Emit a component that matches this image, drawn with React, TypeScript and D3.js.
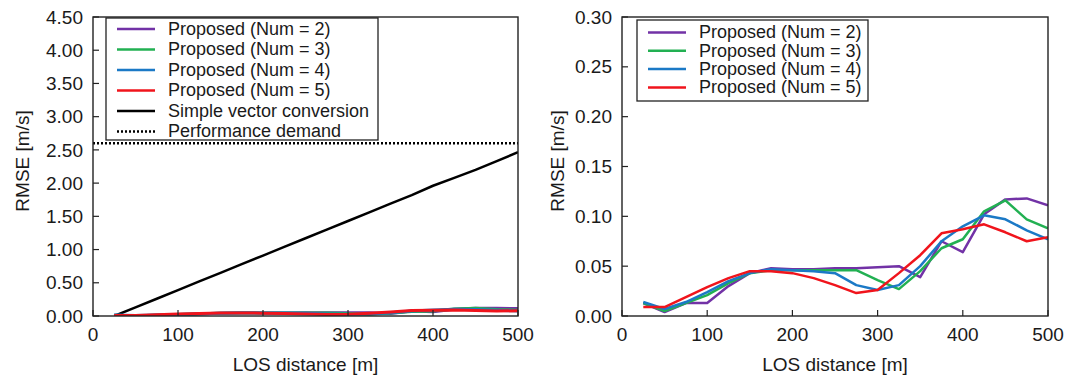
import React from "react";
import * as d3 from "d3";

const distances = [25, 50, 75, 100, 125, 150, 175, 200, 225, 250, 275, 300, 325, 350, 375, 400, 425, 450, 475, 500];
const num2 = [0.013, 0.004, 0.013, 0.013, 0.03, 0.043, 0.048, 0.047, 0.047, 0.048, 0.048, 0.049, 0.05, 0.039, 0.075, 0.064, 0.102, 0.117, 0.118, 0.111];
const num3 = [0.013, 0.005, 0.013, 0.021, 0.033, 0.043, 0.046, 0.046, 0.046, 0.046, 0.046, 0.036, 0.027, 0.045, 0.068, 0.077, 0.105, 0.116, 0.097, 0.088];
const num4 = [0.014, 0.007, 0.014, 0.024, 0.035, 0.043, 0.047, 0.046, 0.045, 0.043, 0.031, 0.026, 0.031, 0.05, 0.075, 0.09, 0.101, 0.097, 0.086, 0.077];
const num5 = [0.009, 0.009, 0.019, 0.029, 0.038, 0.045, 0.045, 0.043, 0.038, 0.031, 0.023, 0.026, 0.043, 0.061, 0.083, 0.087, 0.092, 0.084, 0.075, 0.079];
const simpleConv = [0.0, 0.13, 0.26, 0.39, 0.52, 0.65, 0.78, 0.91, 1.04, 1.17, 1.3, 1.43, 1.56, 1.69, 1.82, 1.96, 2.08, 2.2, 2.33, 2.465];
const performanceDemand = 2.6;

const seriesNames = ["Proposed (Num = 2)", "Proposed (Num = 3)", "Proposed (Num = 4)", "Proposed (Num = 5)"];
const seriesColors = ["#7232a6", "#22b052", "#1b79c6", "#f0141c"];
const seriesValues = [num2, num3, num4, num5];

const xTicks = [0, 100, 200, 300, 400, 500];
const leftYTicks = [0, 0.5, 1, 1.5, 2, 2.5, 3, 3.5, 4, 4.5];
const rightYTicks = [0, 0.05, 0.1, 0.15, 0.2, 0.25, 0.3];

const FONT = "'Liberation Sans', Arial, Helvetica, sans-serif";
const TXT = "#1a1a1a";

type PanelProps = {
  x0: number;
  x1: number;
  yMax: number;
  yTicks: number[];
  ylabelX: number;
  showSimple: boolean;
  legend: { x: number; y: number; w: number; h: number; rowY0: number; rowStep: number };
};

function Panel({ x0, x1, yMax, yTicks, ylabelX, showSimple, legend }: PanelProps) {
  const top = 17;
  const bottom = 316;
  const x = d3.scaleLinear().domain([0, 500]).range([x0, x1]);
  const y = d3.scaleLinear().domain([0, yMax]).range([bottom, top]);
  const line = d3
    .line<number>()
    .x((_, i) => x(distances[i]))
    .y((v) => y(v));
  const fmt = d3.format(".2f");
  const tickLen = 6;

  const legendItems: { name: string; color: string; dash?: string }[] = seriesNames.map((n, i) => ({
    name: n,
    color: seriesColors[i],
  }));
  if (showSimple) {
    legendItems.push({ name: "Simple vector conversion", color: "#000" });
    legendItems.push({ name: "Performance demand", color: "#000", dash: "2,2" });
  }

  return (
    <g>
      <defs>
        <clipPath id={`clip${x0}`}>
          <rect x={x0} y={top} width={x1 - x0} height={bottom - top} />
        </clipPath>
      </defs>
      <g clipPath={`url(#clip${x0})`}>
        {showSimple && (
          <line
            x1={x0}
            x2={x1}
            y1={y(performanceDemand)}
            y2={y(performanceDemand)}
            stroke="#000"
            strokeWidth={2.5}
            strokeDasharray="2,2"
          />
        )}
        {showSimple && (
          <path d={line(simpleConv) || ""} fill="none" stroke="#000" strokeWidth={2.5} strokeLinejoin="round" />
        )}
        {seriesValues.map((vals, i) => (
          <path
            key={i}
            d={line(vals) || ""}
            fill="none"
            stroke={seriesColors[i]}
            strokeWidth={showSimple ? 3 : 2.5}
            strokeLinejoin="round"
          />
        ))}
      </g>
      <rect x={x0} y={top} width={x1 - x0} height={bottom - top} fill="none" stroke="#222" strokeWidth={1.4} />
      {xTicks.map((t) => (
        <g key={`x${t}`}>
          <line x1={x(t)} x2={x(t)} y1={bottom} y2={bottom - tickLen} stroke="#222" strokeWidth={1.2} />
          <text x={x(t)} y={341} textAnchor="middle" fontSize={19} fontFamily={FONT} fill={TXT}>
            {t}
          </text>
        </g>
      ))}
      {yTicks.map((t) => (
        <g key={`y${t}`}>
          <line x1={x0} x2={x0 + tickLen} y1={y(t)} y2={y(t)} stroke="#222" strokeWidth={1.2} />
          <text
            x={x0 - 10}
            y={y(t)}
            dy="0.35em"
            textAnchor="end"
            fontSize={19}
            fontFamily={FONT}
            fill={TXT}
          >
            {fmt(t)}
          </text>
        </g>
      ))}
      <text x={(x0 + x1) / 2} y={371} textAnchor="middle" fontSize={19} fontFamily={FONT} fill={TXT}>
        LOS distance [m]
      </text>
      <text
        transform={`translate(${ylabelX},${161}) rotate(-90)`}
        textAnchor="middle"
        dy="0.35em"
        fontSize={19}
        fontFamily={FONT}
        fill={TXT}
      >
        RMSE [m/s]
      </text>
      <rect x={legend.x} y={legend.y} width={legend.w} height={legend.h} fill="#fff" stroke="#222" strokeWidth={1.3} />
      {legendItems.map((it, i) => {
        const ry = legend.rowY0 + i * legend.rowStep;
        return (
          <g key={it.name}>
            <line
              x1={legend.x + 11}
              x2={legend.x + 49}
              y1={ry}
              y2={ry}
              stroke={it.color}
              strokeWidth={2.5}
              strokeDasharray={it.dash}
            />
            <text x={legend.x + 62} y={ry} dy="0.33em" fontSize={18} fontFamily={FONT} fill={TXT}>
              {it.name}
            </text>
          </g>
        );
      })}
    </g>
  );
}

export default function App() {
  return (
    <div style={{ position: "absolute", left: 0, top: 0 }}>
      <svg width={1077} height={379} style={{ display: "block", background: "#fff" }}>
        <Panel
          x0={93}
          x1={518}
          yMax={4.5}
          yTicks={leftYTicks}
          ylabelX={22}
          showSimple={true}
          legend={{ x: 106, y: 18, w: 272, h: 122, rowY0: 29, rowStep: 20.5 }}
        />
        <Panel
          x0={622}
          x1={1048}
          yMax={0.3}
          yTicks={rightYTicks}
          ylabelX={557}
          showSimple={false}
          legend={{ x: 637, y: 20, w: 231, h: 81, rowY0: 32.5, rowStep: 18.3 }}
        />
      </svg>
    </div>
  );
}
